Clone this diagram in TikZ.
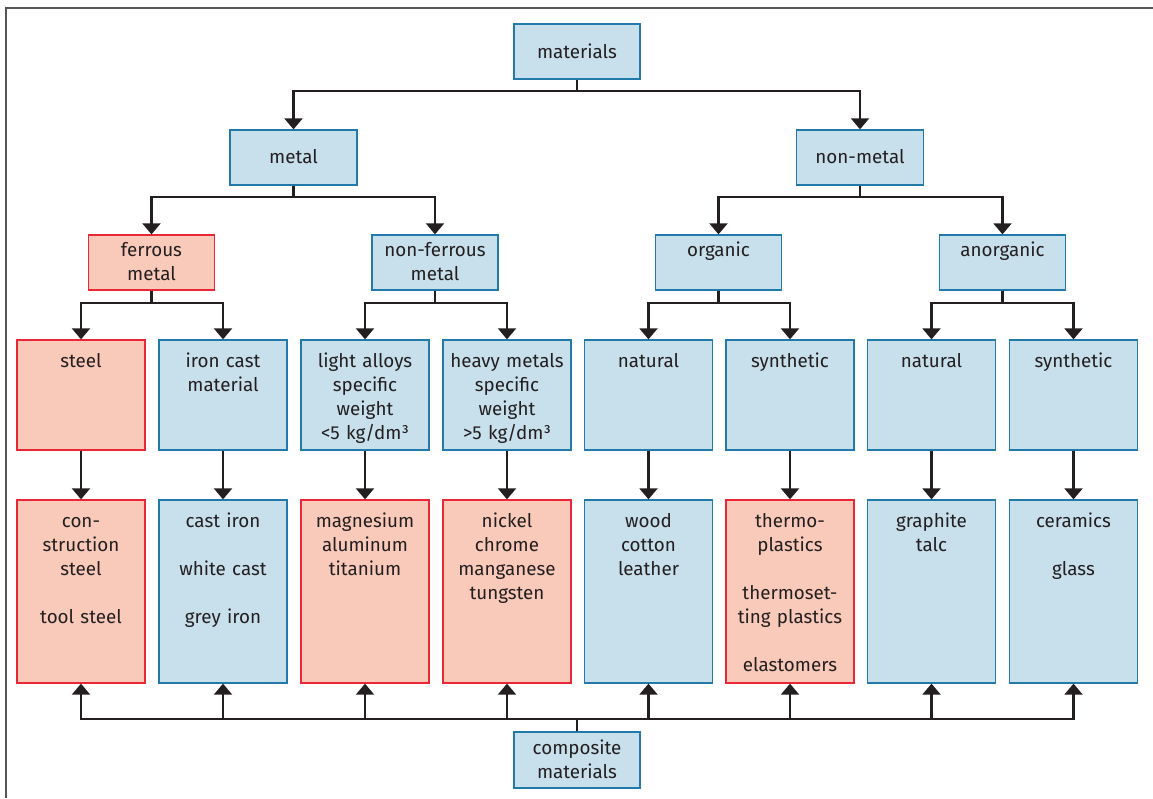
\documentclass[tikz,border=0pt]{standalone}
\usepackage{fontspec}
\setmainfont{Fira Sans}
\usetikzlibrary{arrows.meta}
\definecolor{bfill}{RGB}{200,223,236}
\definecolor{bdraw}{RGB}{34,122,170}
\definecolor{pfill}{RGB}{249,201,185}
\definecolor{pdraw}{RGB}{232,40,55}
\definecolor{ink}{RGB}{35,31,32}
\definecolor{framec}{RGB}{85,85,85}
\tikzset{
  bx/.style={draw=bdraw, fill=bfill, line width=1.3pt, inner sep=0pt, align=center,
    font=\fontsize{18.8}{24}\selectfont, text=ink},
  px/.style={bx, draw=pdraw, fill=pfill},
  lone/.style={text width=126pt, minimum width=126pt, text height=34pt, text depth=21pt},
  ltwo/.style={text width=127pt, minimum width=127pt, text height=33pt, text depth=22pt},
  lthree/.style={text width=126pt, minimum width=126pt, text height=21pt, text depth=34pt},
  lfour/.style={text width=128pt, minimum width=128pt, text height=27pt, text depth=83pt},
  lfive/.style={text width=128pt, minimum width=128pt, text height=27pt, text depth=156pt},
  lcomp/.style={text width=126pt, minimum width=126pt, text height=22pt, text depth=34pt},
  arr/.style={draw=ink, line width=2.1pt, -{Triangle[width=18pt,length=11pt]}},
  frm/.style={draw=framec, line width=1.8pt}
}
\begin{document}
\begin{tikzpicture}[x=1pt,y=-1pt]
\useasboundingbox (0,0) rectangle (1153,798);
\draw[frm] (1153,8) -- (6,8) -- (6,798);
% level 1
\node[bx,lone] (mat) at (577,51.5) {materials};
% level 2
\node[bx,ltwo] (metal) at (293.5,157.5) {metal};
\node[bx,ltwo] (nonmetal) at (860,157.5) {non-metal};
% level 3
\node[px,lthree] (ferrous) at (151.5,262.5) {ferrous\\metal};
\node[bx,lthree] (nonferrous) at (435,262.5) {non-ferrous\\metal};
\node[bx,lthree] (organic) at (718.5,262.5) {organic};
\node[bx,lthree] (anorganic) at (1002.5,262.5) {anorganic};
% level 4
\node[px,lfour] (steel) at (81,395) {steel};
\node[bx,lfour] (ironcast) at (223,395) {iron cast\\material};
\node[bx,lfour] (light) at (365,395) {light alloys\\specific\\weight\\<5 kg/dm³};
\node[bx,lfour] (heavy) at (507,395) {heavy metals\\specific\\weight\\>5 kg/dm³};
\node[bx,lfour] (onat) at (648.5,395) {natural};
\node[bx,lfour] (osyn) at (790,395) {synthetic};
\node[bx,lfour] (anat) at (931.5,395) {natural};
\node[bx,lfour] (asyn) at (1073.5,395) {synthetic};
% level 5
\node[px,lfive] (esteel) at (81,591.5) {con-\\struction\\steel\\[24pt]tool steel};
\node[bx,lfive] (eiron) at (223,591.5) {cast iron\\[24pt]white cast\\[24pt]grey iron};
\node[px,lfive] (elight) at (365,591.5) {magnesium\\aluminum\\titanium};
\node[px,lfive] (eheavy) at (507,591.5) {nickel\\chrome\\manganese\\tungsten};
\node[bx,lfive] (eonat) at (648.5,591.5) {wood\\cotton\\leather};
\node[px,lfive] (eosyn) at (790,591.5) {thermo-\\plastics\\[24pt]thermoset-\\ting plastics\\[24pt]elastomers};
\node[bx,lfive] (eanat) at (931.5,591.5) {graphite\\talc};
\node[bx,lfive] (easyn) at (1073.5,591.5) {ceramics\\[24pt]glass};
% composite
\node[bx,lcomp] (comp) at (577,760) {composite\\materials};
% connectors
\draw[arr] (mat.south) -- ++(0,11) -| (metal.north);
\draw[arr] (mat.south) -- ++(0,11) -| (nonmetal.north);
\draw[arr] (metal.south) -- ++(0,11) -| (ferrous.north);
\draw[arr] (metal.south) -- ++(0,11) -| (nonferrous.north);
\draw[arr] (nonmetal.south) -- ++(0,11) -| (organic.north);
\draw[arr] (nonmetal.south) -- ++(0,11) -| (anorganic.north);
\draw[arr] (ferrous.south) -- ++(0,12) -| (steel.north);
\draw[arr] (ferrous.south) -- ++(0,12) -| (ironcast.north);
\draw[arr] (nonferrous.south) -- ++(0,12) -| (light.north);
\draw[arr] (nonferrous.south) -- ++(0,12) -| (heavy.north);
\draw[arr] (organic.south) -- ++(0,12) -| (onat.north);
\draw[arr] (organic.south) -- ++(0,12) -| (osyn.north);
\draw[arr] (anorganic.south) -- ++(0,12) -| (anat.north);
\draw[arr] (anorganic.south) -- ++(0,12) -| (asyn.north);
\foreach \a/\b in {steel/esteel, ironcast/eiron, light/elight, heavy/eheavy, onat/eonat, osyn/eosyn, anat/eanat, asyn/easyn}
  \draw[arr] (\a.south) -- (\b.north);
\foreach \b in {esteel, eiron, elight, eheavy, eonat, eosyn, eanat, easyn}
  \draw[arr] (comp.north) -- ++(0,-12) -| (\b.south);
\end{tikzpicture}
\end{document}
